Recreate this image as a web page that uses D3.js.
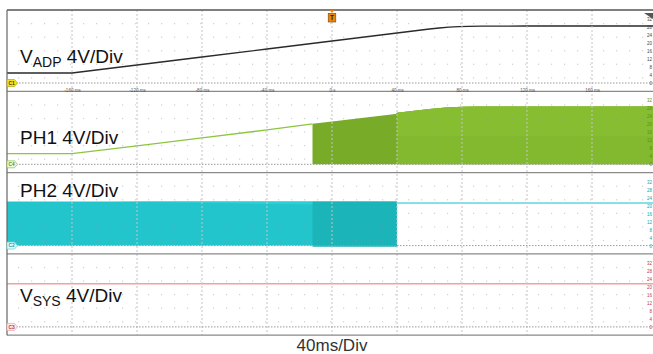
<!DOCTYPE html>
<html>
<head>
<meta charset="utf-8">
<script src="https://cdn.jsdelivr.net/npm/d3@7"></script>
<style>
  body { margin: 0; background: #fff; }
  svg { display: block; font-family: "Liberation Sans", Arial, sans-serif; }
</style>
</head>
<body>
<svg width="653" height="354"></svg>
<script>
// time in ms, voltages in V
const timeTicks = [-160, -120, -80, -40, 0, 40, 80, 120, 160];
const timeLabels = ["-160 ms", "-120 ms", "-80 ms", "-40 ms", "0 s", "40 ms", "80 ms", "120 ms", "160 ms"];
const voltTicks = [0, 4, 8, 12, 16, 20, 24, 28, 32];

const adpTime = [-200, -160, -120, -80, -40, 0, 40, 60, 66, 72, 78, 84, 92, 120, 160, 200];
const adpVolt = [5, 5, 9, 13, 17, 21, 25, 27, 27.5, 27.9, 28.15, 28.3, 28.45, 28.5, 28.5, 28.5];

const ph1LineTime = [-200, -160, -120, -80, -40, -12];
const ph1LineVolt = [5.3, 5.3, 9.2, 13.2, 17.2, 20.2];
const ph1SwTime = [-12, 0, 39, 40, 60, 70, 80, 90, 200];
const ph1SwVolt = [20.3, 21.4, 25.2, 25.8, 27.7, 28.4, 28.8, 28.9, 28.9];

const ph2SwTime = [-200, 40];
const ph2SwVolt = [22, 22];
const ph2LineTime = [40, 200];
const ph2LineVolt = [21.3, 21.3];

const sysTime = [-200, 200];
const sysVolt = [21.6, 21.6];

const svg = d3.select("svg");
const W = 653;
const left = 7;
const panelH = 81.3;
const top0 = 10;

const x = d3.scaleLinear().domain([-200, 200]).range([left, 657]);

// one y scale per channel panel
const panels = d3.range(4).map(i => {
  const t = top0 + i * panelH;
  return { top: t, y: d3.scaleLinear().domain([0, 32]).range([t + 73, t + 9]) };
});

const pts = (ts, vs) => ts.map((t, i) => [t, vs[i]]);

svg.append("rect").attr("width", W).attr("height", 354).attr("fill", "#fff");

svg.append("clipPath").attr("id", "plot")
  .append("rect").attr("x", left).attr("y", top0).attr("width", W - left).attr("height", 4 * panelH);

const plot = svg.append("g").attr("clip-path", "url(#plot)");

// --- traces ---
// PH1 switching block (dark part up to 40 ms, lighter after)
const p1 = panels[1].y;
const sw1 = pts(ph1SwTime, ph1SwVolt);
const area1 = d3.area().x(d => x(d[0])).y0(p1(0)).y1(d => p1(d[1]));
plot.append("path").datum(sw1).attr("d", area1).attr("fill", "#78ab28");
plot.append("path").datum(sw1.filter(d => d[0] >= 40)).attr("d", area1).attr("fill", "#82b92e");
plot.append("path").datum(sw1.filter(d => d[0] >= 40))
  .attr("d", d3.area().x(d => x(d[0])).y0(p1(14)).y1(d => p1(d[1])))
  .attr("fill", "#86bd31");
plot.append("path").datum(pts(ph1LineTime, ph1LineVolt))
  .attr("d", d3.line().x(d => x(d[0])).y(d => p1(d[1])))
  .attr("fill", "none").attr("stroke", "#8cc63f").attr("stroke-width", 1.3);

// PH2 switching block then flat
const p2 = panels[2].y;
const area2 = d3.area().x(d => x(d[0])).y0(p2(0)).y1(d => p2(d[1]));
plot.append("path").datum(pts(ph2SwTime, ph2SwVolt)).attr("d", area2).attr("fill", "#22c5cc");
plot.append("path").datum(pts([-12, 40], [22, 22]))
  .attr("d", d3.area().x(d => x(d[0])).y0(p2(-0.6)).y1(d => p2(d[1])))
  .attr("fill", "#1bb4b8");
plot.append("path")
  .attr("d", `M${x(-136)},${p2(22)} L${x(-12)},${p2(22)} L${x(-12)},${p2(20.5)} Z`)
  .attr("fill", "#2bd0d6");
plot.append("path").datum(pts(ph2LineTime, ph2LineVolt))
  .attr("d", d3.line().x(d => x(d[0])).y(d => p2(d[1])))
  .attr("fill", "none").attr("stroke", "#5fd6da").attr("stroke-width", 1.3);

// --- grid ---
const grid = svg.append("g");
panels.forEach(p => {
  for (let k = 1; k <= 5; k++) {
    const gy = p.top + k * panelH / 6;
    for (let gx = left + 11; gx < W; gx += 13) {
      grid.append("rect").attr("x", gx).attr("y", gy - 0.5).attr("width", 1.2).attr("height", 1.2)
        .attr("fill", "rgba(150,150,150,0.45)");
    }
  }
});
timeTicks.forEach(t => {
  grid.append("line").attr("x1", x(t)).attr("x2", x(t)).attr("y1", top0).attr("y2", top0 + 4 * panelH)
    .attr("stroke", "#c4c4c4").attr("stroke-width", 1).attr("stroke-dasharray", "2,2");
});
panels.forEach(p => {
  grid.append("line").attr("x1", left).attr("x2", W).attr("y1", p.y(0)).attr("y2", p.y(0))
    .attr("stroke", "#9a9a9a").attr("stroke-width", 1).attr("stroke-dasharray", "1.5,1.5");
});

// --- line traces on top ---
const p0 = panels[0].y;
plot.append("path").datum(pts(adpTime, adpVolt))
  .attr("d", d3.line().x(d => x(d[0])).y(d => p0(d[1])))
  .attr("fill", "none").attr("stroke", "#2a2a2a").attr("stroke-width", 1.3);

const p3 = panels[3].y;
plot.append("path").datum(pts(sysTime, sysVolt))
  .attr("d", d3.line().x(d => x(d[0])).y(d => p3(d[1])))
  .attr("fill", "none").attr("stroke", "#f2a0a0").attr("stroke-width", 1.6);

// --- panel borders ---
d3.range(5).forEach(i => {
  svg.append("line").attr("x1", left).attr("x2", W).attr("y1", top0 + i * panelH).attr("y2", top0 + i * panelH)
    .attr("stroke", i === 0 ? "#555" : "#8a8a8a").attr("stroke-width", 1.3);
});
svg.append("line").attr("x1", left).attr("x2", left).attr("y1", top0).attr("y2", top0 + 4 * panelH)
  .attr("stroke", "#666").attr("stroke-width", 1.2);

// --- time axis labels (first panel only) ---
svg.append("g").attr("transform", `translate(0,${panels[0].y(0) + 6})`)
  .call(d3.axisBottom(x).tickValues(timeTicks).tickSize(0)
    .tickFormat((d, i) => timeLabels[i]))
  .call(g => g.select(".domain").remove())
  .call(g => g.selectAll("text").attr("font-size", 4.5).attr("fill", "#555").attr("dy", 0)
    .attr("font-family", "Liberation Sans, Arial, sans-serif"));

// --- right volt labels ---
const voltColors = ["#444", "#5f8f1c", "#1b9ea4", "#c0364f"];
panels.forEach((p, i) => {
  svg.append("g").attr("transform", `translate(${W - 1},0)`)
    .call(d3.axisLeft(p.y).tickValues(voltTicks).tickSize(0).tickPadding(0))
    .call(g => g.select(".domain").remove())
    .call(g => g.selectAll("text").attr("font-size", 4.5).attr("fill", voltColors[i])
      .attr("font-family", "Liberation Sans, Arial, sans-serif"));
});

// --- channel tags ---
const tags = [
  { name: "C1", fill: "#f3e31a", stroke: "#b8a800", text: "#333" },
  { name: "C4", fill: "#eef7e0", stroke: "#8cc63f", text: "#5f8f1c" },
  { name: "C2", fill: "#e0f7f8", stroke: "#5fd6da", text: "#1b9ea4" },
  { name: "C3", fill: "#fde8ec", stroke: "#f2a0a0", text: "#c0364f" }
];
panels.forEach((p, i) => {
  const ty = p.y(0);
  const g = svg.append("g").attr("transform", `translate(${left},${ty})`);
  g.append("path").attr("d", "M0,-3.5 H7.5 L10.5,0 L7.5,3.5 H0 Z")
    .attr("fill", tags[i].fill).attr("stroke", tags[i].stroke).attr("stroke-width", 0.7);
  g.append("text").attr("x", 4.5).attr("y", 1.7).attr("text-anchor", "middle")
    .attr("font-size", 4.8).attr("font-weight", "bold").attr("fill", tags[i].text).text(tags[i].name);
});

// --- trigger marker ---
const tg = svg.append("g").attr("transform", `translate(${x(0)},${top0})`);
tg.append("path").attr("d", "M-2.5,0 H2.5 L0,3 Z").attr("fill", "#e8870c");
tg.append("rect").attr("x", -3.8).attr("y", 3.5).attr("width", 7.6).attr("height", 8.5)
  .attr("fill", "#e8870c").attr("stroke", "#7a4000").attr("stroke-width", 0.6);
tg.append("text").attr("y", 10.3).attr("text-anchor", "middle").attr("font-size", 6.5)
  .attr("font-weight", "bold").attr("fill", "#3a2000").text("T");
svg.append("path").attr("d", `M${W - 9},${top0 + 3} H${W} V${top0 + 9} Z`).attr("fill", "#555");

// --- channel captions ---
const captions = [
  { main: "V", sub: "ADP", rest: " 4V/Div", y: 63 },
  { main: "PH1 4V/Div", sub: null, rest: "", y: 144 },
  { main: "PH2 4V/Div", sub: null, rest: "", y: 197 },
  { main: "V", sub: "SYS", rest: " 4V/Div", y: 302 }
];
captions.forEach(c => {
  const t = svg.append("text").attr("x", 20).attr("y", c.y).attr("font-size", 19).attr("fill", "#111");
  t.append("tspan").text(c.main);
  if (c.sub) {
    t.append("tspan").attr("font-size", 14).attr("dy", 4).text(c.sub);
    t.append("tspan").attr("dy", -4).text(c.rest);
  }
});

svg.append("text").attr("x", x(0)).attr("y", 351).attr("text-anchor", "middle")
  .attr("font-size", 17).attr("fill", "#333").text("40ms/Div");
</script>
</body>
</html>
